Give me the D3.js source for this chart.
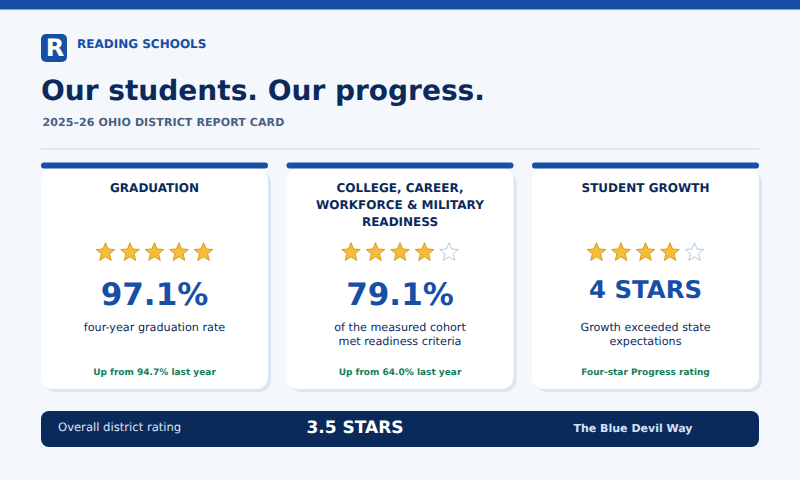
<!DOCTYPE html>
<html>
<head>
<meta charset="utf-8">
<script src="https://cdn.jsdelivr.net/npm/d3@7"></script>
<style>
html, body { margin: 0; padding: 0; background: #f4f7fc; }
svg { display: block; font-family: "DejaVu Sans", sans-serif; text-rendering: geometricPrecision; }
</style>
</head>
<body>
<div id="card"></div>
<script>
// card content
const card_titles = [
    ["GRADUATION"],
    ["COLLEGE, CAREER,", "WORKFORCE & MILITARY", "READINESS"],
    ["STUDENT GROWTH"]
];
const star_counts = [5, 4, 4];
const star_total = 5;
const big_values = ["97.1%", "79.1%", "4 STARS"];
const descriptions = [
    ["four-year graduation rate"],
    ["of the measured cohort", "met readiness criteria"],
    ["Growth exceeded state", "expectations"]
];
const footnotes = ["Up from 94.7% last year", "Up from 64.0% last year", "Four-star Progress rating"];

const navy = "#0b2a5c", blue = "#174ea6", green = "#12805c";

const svg = d3.select("#card").append("svg")
    .attr("width", 800)
    .attr("height", 480);

svg.append("rect").attr("width", 800).attr("height", 480).attr("fill", "#f4f7fc");
svg.append("rect").attr("width", 800).attr("height", 9.5).attr("fill", blue);

// logo + header
svg.append("rect").attr("x", 41).attr("y", 34).attr("width", 26).attr("height", 28).attr("rx", 5).attr("fill", blue);
svg.append("text").attr("x", 55).attr("y", 55.5).attr("text-anchor", "middle")
    .attr("font-size", 24).attr("font-weight", "bold").attr("fill", "#fff").text("R");
svg.append("text").attr("x", 77).attr("y", 48).attr("font-size", 12).attr("font-weight", "bold")
    .attr("fill", blue).text("READING SCHOOLS");
svg.append("text").attr("x", 41).attr("y", 100).attr("font-size", 28).attr("font-weight", "bold")
    .attr("fill", navy).text("Our students. Our progress.");
svg.append("text").attr("x", 42.5).attr("y", 126).attr("font-size", 11).attr("font-weight", "bold")
    .attr("letter-spacing", 0.1).attr("fill", "#4a5f7f").text("2025\u201326 OHIO DISTRICT REPORT CARD");
svg.append("rect").attr("x", 41).attr("y", 148).attr("width", 718).attr("height", 2).attr("fill", "#dde6f3");

// three cards across
const x = d3.scaleBand().domain(d3.range(card_titles.length)).range([41, 759]).paddingInner(0.0754);

const star_path = d3.range(10).map(i => {
    const r = i % 2 ? 4.3 : 9.8, a = i * Math.PI / 5;
    return [r * Math.sin(a), -r * Math.cos(a)];
});
const star_line = d3.line().curve(d3.curveLinearClosed);

const cards = svg.selectAll("g.metric").data(d3.range(card_titles.length)).join("g")
    .attr("class", "metric")
    .attr("transform", d => "translate(" + x(d) + ",0)");
const w = x.bandwidth();

cards.append("rect").attr("x", 3).attr("y", 171).attr("width", w).attr("height", 221).attr("rx", 12).attr("fill", "#dce6f3");
cards.append("rect").attr("y", 168).attr("width", w).attr("height", 221).attr("rx", 12).attr("fill", "#fff");
cards.append("rect").attr("y", 162.5).attr("width", w).attr("height", 6).attr("rx", 3).attr("fill", blue);

cards.each(function (d) {
    const g = d3.select(this);
    card_titles[d].forEach((t, i) => {
        g.append("text").attr("x", w / 2).attr("y", 192 + i * 17).attr("text-anchor", "middle")
            .attr("font-size", 12).attr("font-weight", "bold").attr("fill", navy).text(t);
    });
    const star_x = d3.scalePoint().domain(d3.range(star_total)).range([w / 2 - 49, w / 2 + 49]);
    g.selectAll("path.star").data(d3.range(star_total)).join("path")
        .attr("class", "star")
        .attr("transform", i => "translate(" + star_x(i) + ",252.5)")
        .attr("d", star_line(star_path))
        .attr("stroke-width", 1)
        .attr("stroke-linejoin", "round")
        .attr("fill", i => i < star_counts[d] ? "#f6bd3b" : "#fff")
        .attr("stroke", i => i < star_counts[d] ? "#d99c1a" : "#b8cae2");
    g.append("text").attr("x", w / 2).attr("y", big_values[d].includes("%") ? 304.5 : 298).attr("text-anchor", "middle")
        .attr("font-size", big_values[d].includes("%") ? 31 : 24.4).attr("font-weight", "bold").attr("fill", blue).text(big_values[d]);
    descriptions[d].forEach((t, i) => {
        g.append("text").attr("x", w / 2).attr("y", 331 + i * 14).attr("text-anchor", "middle")
            .attr("font-size", 11.2).attr("fill", navy).text(t);
    });
    g.append("text").attr("x", w / 2).attr("y", 375).attr("text-anchor", "middle")
        .attr("font-size", 9).attr("font-weight", "bold").attr("fill", green).text(footnotes[d]);
});

// bottom band
svg.append("rect").attr("x", 41).attr("y", 411).attr("width", 718).attr("height", 36).attr("rx", 8).attr("fill", navy);
svg.append("text").attr("x", 58).attr("y", 431).attr("font-size", 11.6).attr("fill", "#dce6f3").text("Overall district rating");
svg.append("text").attr("x", 355).attr("y", 432.5).attr("text-anchor", "middle").attr("font-size", 17).attr("font-weight", "bold")
    .attr("fill", "#fff").text("3.5 STARS");
svg.append("text").attr("x", 633).attr("y", 432).attr("text-anchor", "middle").attr("font-size", 11).attr("font-weight", "bold")
    .attr("fill", "#d5e1f5").text("The Blue Devil Way");
</script>
</body>
</html>
